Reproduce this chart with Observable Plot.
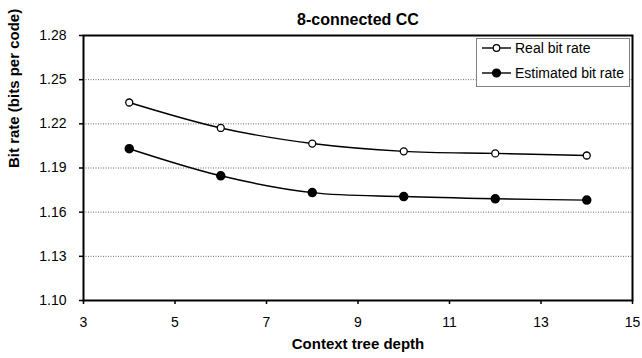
<!DOCTYPE html>
<html><head><meta charset="utf-8">
<script src="https://cdn.jsdelivr.net/npm/d3@7"></script>
<script src="https://cdn.jsdelivr.net/npm/@observablehq/plot@0.6"></script>
<style>
body{margin:0;background:#fff;}
#wrap{position:relative;width:642px;height:358px;}
#legend{position:absolute;left:476px;top:38px;width:154px;height:49px;border:1px solid #808080;background:#fff;box-sizing:border-box;font:14px "Liberation Sans",Arial,sans-serif;color:#000;}
.row{position:absolute;left:4px;height:20px;display:flex;align-items:center;white-space:nowrap;}
.row svg{margin-right:3px;}
</style></head><body><div id="wrap"></div>
<script>
const depth = [4, 6, 8, 10, 12, 14];
const realRate = [1.2345, 1.2172, 1.2066, 1.2013, 1.1999, 1.1985];
const estRate = [1.2031, 1.1847, 1.1733, 1.1706, 1.1691, 1.1682];
const seriesNames = ["Real bit rate", "Estimated bit rate"];
const xTicks = [3, 5, 7, 9, 11, 13, 15];
const yTicks = [1.10, 1.13, 1.16, 1.19, 1.22, 1.25, 1.28];
const titleText = "8-connected CC";
const xTitle = "Context tree depth";
const yTitle = "Bit rate (bits per code)";

const rows = depth.flatMap((d, i) => [
  {depth: d, rate: realRate[i], series: seriesNames[0]},
  {depth: d, rate: estRate[i], series: seriesNames[1]}
]);

const chart = Plot.plot({
  width: 642, height: 358,
  marginLeft: 83, marginRight: 10, marginTop: 35, marginBottom: 58,
  style: {fontFamily: '"Liberation Sans", Arial, sans-serif', fontSize: "14px", color: "#000", background: "#fff", overflow: "visible"},
  x: {domain: [3, 15]},
  y: {domain: [1.10, 1.28]},
  marks: [
    Plot.gridY(yTicks.slice(1, -1), {stroke: "#000", strokeOpacity: 0.6, strokeDasharray: "1,1.5", strokeWidth: 1}),
    Plot.axisX(xTicks, {tickSize: 4, tickPadding: 13, label: null, strokeWidth: 1.5}),
    Plot.axisY(yTicks, {tickSize: 4, tickPadding: 13, tickFormat: d3.format(".2f"), label: null, strokeWidth: 1.5}),
    Plot.frame({stroke: "#000", strokeWidth: 2}),
    Plot.line(rows, {x: "depth", y: "rate", z: "series", curve: "catmull-rom", stroke: "#000", strokeWidth: 1.4}),
    Plot.dot(rows.filter(r => r.series === seriesNames[0]), {x: "depth", y: "rate", r: 3.5, stroke: "#000", fill: "#fff", strokeWidth: 1.3}),
    Plot.dot(rows.filter(r => r.series === seriesNames[1]), {x: "depth", y: "rate", r: 4, stroke: "#000", fill: "#000"}),
    Plot.text([titleText], {text: d => d, frameAnchor: "top", dy: -22, fontWeight: "bold", fontSize: 16}),
    Plot.text([xTitle], {text: d => d, frameAnchor: "bottom", dy: 48, fontWeight: "bold", fontSize: 15}),
    Plot.text([yTitle], {text: d => d, frameAnchor: "left", rotate: -90, dx: -69, fontWeight: "bold", fontSize: 15})
  ]
});

const wrap = document.getElementById("wrap");
wrap.appendChild(chart);

const legend = document.createElement("div");
legend.id = "legend";
seriesNames.forEach((name, i) => {
  const row = document.createElement("div");
  row.className = "row";
  row.style.top = (i === 0 ? -1 : 24) + "px";
  const filled = i === 1;
  row.innerHTML = `<svg width="31" height="12"><line x1="1" x2="30" y1="6" y2="6" stroke="#000" stroke-width="1.4"/><circle cx="15.5" cy="6" r="${filled ? 4 : 3.3}" fill="${filled ? "#000" : "#fff"}" stroke="#000" stroke-width="1.2"/></svg>`;
  const span = document.createElement("span");
  span.textContent = name;
  row.appendChild(span);
  legend.appendChild(row);
});
wrap.appendChild(legend);
</script>
</body></html>
